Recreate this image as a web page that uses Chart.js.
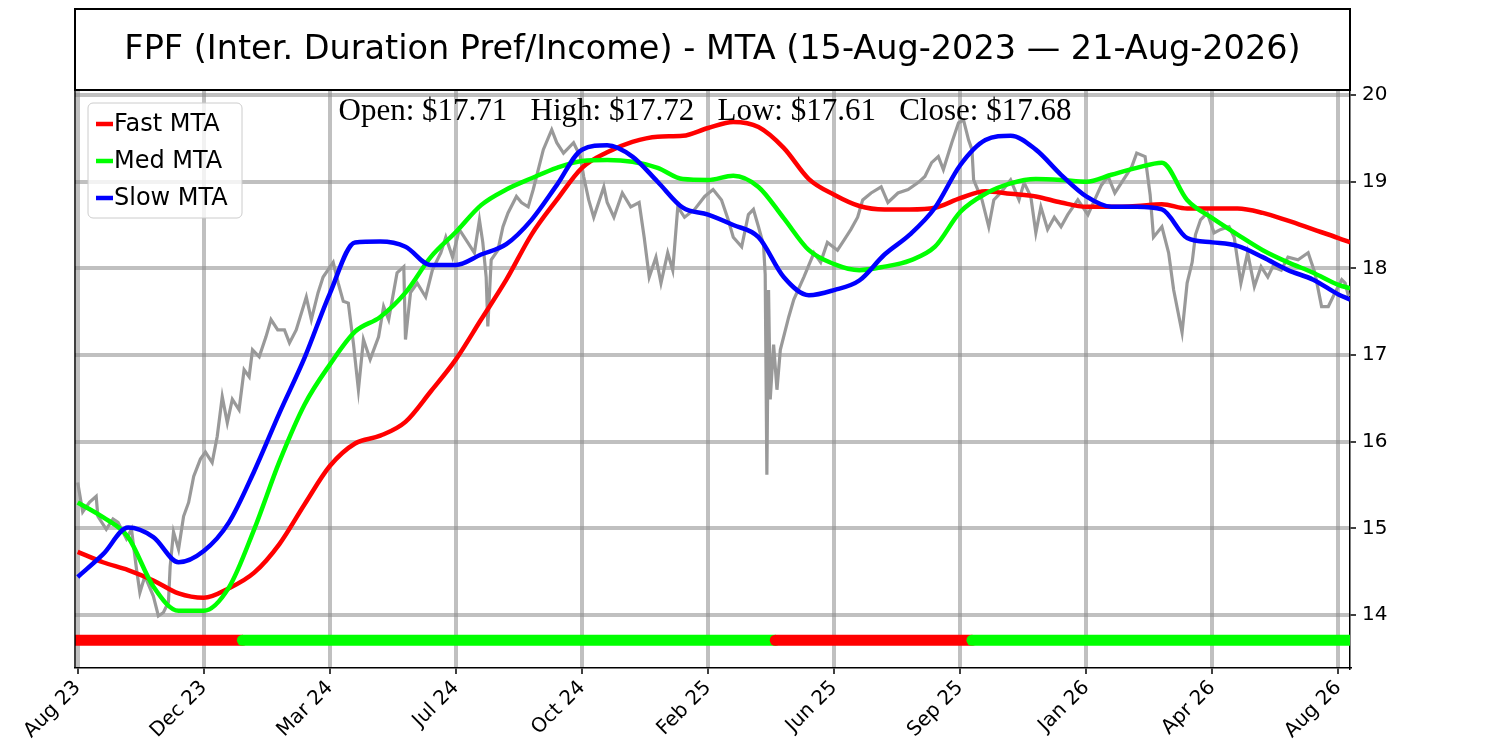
<!DOCTYPE html>
<html>
<head>
<meta charset="utf-8">
<script src="https://cdn.jsdelivr.net/npm/chart.js@4.4.1/dist/chart.umd.min.js"></script>
<style>
    html, body { margin: 0; padding: 0; background: #fff; }
    #chartMTA { display: block; }
</style>
</head>
<body>
<canvas id="chartMTA" width="1500" height="750"></canvas>
<script>
// tick labels (bar index -> month label)
var xTickDays = [0, 75, 150, 225, 300, 375, 450, 525, 600, 675, 750];
var xTickLabels = ['Aug 23', 'Dec 23', 'Mar 24', 'Jul 24', 'Oct 24', 'Feb 25', 'Jun 25', 'Sep 25', 'Jan 26', 'Apr 26', 'Aug 26'];
var yTicks = [14, 15, 16, 17, 18, 19, 20];

var titleText = 'FPF (Inter. Duration Pref/Income) - MTA (15-Aug-2023 \u2014 21-Aug-2026)';
var ohlcLabels = ['Open', 'High', 'Low', 'Close'];
var ohlcValues = [17.71, 17.72, 17.61, 17.68];

// price
var priceDays = [
    0, 3, 7, 11, 12, 17, 21, 24, 29, 32,
    35, 37, 40, 45, 48, 51, 54, 55, 57, 60,
    63, 66, 69, 73, 76, 80, 83, 86, 89, 92,
    96, 99, 102, 104, 108, 112, 115, 119, 123, 126,
    130, 136, 139, 143, 146, 152, 155, 158, 161, 164,
    167, 170, 174, 179, 182, 185, 190, 194, 195, 198,
    202, 207, 211, 216, 219, 223, 227, 232, 236, 239,
    241, 243, 244, 246, 250, 253, 256, 261, 264, 268,
    271, 274, 277, 282, 285, 289, 295, 299, 301, 304,
    307, 313, 315, 319, 324, 329, 334, 337, 340, 344,
    347, 351, 354, 357, 361, 367, 373, 378, 383, 387,
    390, 395, 399, 402, 405, 408, 409, 410, 411, 412,
    414, 416, 418, 423, 426, 432, 438, 442, 446, 452,
    456, 460, 464, 467, 472, 478, 482, 488, 494, 500,
    504, 508, 512, 515, 520, 524, 527, 530, 532, 533,
    538, 542, 545, 549, 555, 560, 563, 567, 570, 573,
    577, 581, 585, 589, 595, 601, 609, 613, 617, 621,
    627, 630, 635, 638, 640, 645, 649, 652, 657, 660,
    663, 665, 668, 672, 676, 680, 685, 688, 692, 696,
    700, 704, 708, 711, 716, 720, 726, 732, 736, 740,
    744, 748, 752, 754, 756
];
var priceValues = [
    15.53, 15.19, 15.30, 15.37, 15.14, 14.99, 15.11, 15.07, 14.88, 14.99,
    14.53, 14.26, 14.45, 14.22, 13.99, 14.03, 14.15, 14.56, 14.96, 14.76,
    15.14, 15.30, 15.60, 15.80, 15.88, 15.76, 16.06, 16.52, 16.22, 16.49,
    16.37, 16.83, 16.75, 17.06, 16.98, 17.21, 17.41, 17.29, 17.29, 17.14,
    17.29, 17.67, 17.41, 17.72, 17.90, 18.07, 17.83, 17.62, 17.60, 17.14,
    16.60, 17.18, 16.95, 17.21, 17.56, 17.41, 17.95, 18.02, 17.18, 17.72,
    17.83, 17.67, 17.98, 18.18, 18.36, 18.13, 18.45, 18.30, 18.18, 18.56,
    18.30, 17.90, 17.33, 18.10, 18.21, 18.48, 18.64, 18.83, 18.76, 18.71,
    18.91, 19.14, 19.37, 19.60, 19.45, 19.33, 19.45, 19.29, 19.06, 18.79,
    18.59, 18.94, 18.76, 18.59, 18.87, 18.71, 18.76, 18.36, 17.90, 18.13,
    17.83, 18.18, 17.98, 18.71, 18.59, 18.68, 18.83, 18.91, 18.79, 18.56,
    18.36, 18.25, 18.62, 18.68, 18.48, 18.27, 17.93, 15.62, 17.75, 16.49,
    17.12, 16.60, 17.06, 17.44, 17.64, 17.90, 18.18, 18.07, 18.30, 18.21,
    18.33, 18.45, 18.59, 18.79, 18.87, 18.94, 18.76, 18.87, 18.91, 18.99,
    19.06, 19.22, 19.29, 19.14, 19.45, 19.68, 19.71, 19.48, 19.37, 19.02,
    18.79, 18.48, 18.79, 18.87, 19.02, 18.79, 18.99, 18.83, 18.41, 18.71,
    18.45, 18.59, 18.48, 18.62, 18.79, 18.62, 18.96, 19.06, 18.87, 18.99,
    19.17, 19.33, 19.29, 18.85, 18.36, 18.48, 18.18, 17.75, 17.26, 17.83,
    18.07, 18.39, 18.56, 18.64, 18.41, 18.45, 18.48, 18.36, 17.83, 18.18,
    17.79, 18.02, 17.90, 18.02, 17.98, 18.13, 18.10, 18.18, 17.95, 17.56,
    17.56, 17.72, 17.87, 17.83, 17.68
];

// MTA lines, sampled every 15 bars
var mtaDays = [
    0, 15, 30, 45, 60, 75, 90, 105, 120, 135,
    150, 165, 180, 195, 210, 225, 240, 255, 270, 285,
    300, 315, 330, 345, 360, 375, 390, 405, 420, 435,
    450, 465, 480, 495, 510, 525, 540, 555, 570, 585,
    600, 615, 630, 645, 660, 675, 690, 705, 720, 735,
    750, 757
];
var fastMta = [
    14.73, 14.61, 14.52, 14.40, 14.25, 14.20, 14.31, 14.49, 14.82, 15.28,
    15.72, 15.98, 16.07, 16.23, 16.58, 16.95, 17.41, 17.87, 18.39, 18.79,
    19.16, 19.34, 19.46, 19.52, 19.53, 19.62, 19.69, 19.63, 19.39, 19.03,
    18.85, 18.72, 18.68, 18.68, 18.70, 18.81, 18.89, 18.86, 18.83, 18.76,
    18.71, 18.71, 18.72, 18.74, 18.69, 18.69, 18.69, 18.64, 18.55, 18.45,
    18.35, 18.30
];
var medMta = [
    15.30, 15.13, 14.90, 14.33, 14.05, 14.05, 14.32, 14.99, 15.77, 16.43,
    16.89, 17.27, 17.44, 17.72, 18.13, 18.42, 18.73, 18.91, 19.04, 19.16,
    19.24, 19.25, 19.23, 19.16, 19.03, 19.02, 19.07, 18.94, 18.58, 18.21,
    18.05, 17.98, 18.02, 18.09, 18.25, 18.65, 18.86, 18.98, 19.03, 19.02,
    19.00, 19.08, 19.16, 19.22, 18.79, 18.58, 18.39, 18.21, 18.07, 17.95,
    17.81, 17.77
];
var slowMta = [
    14.44, 14.70, 15.01, 14.90, 14.61, 14.74, 15.07, 15.66, 16.33, 16.97,
    17.71, 18.30, 18.31, 18.25, 18.04, 18.04, 18.16, 18.28, 18.56, 18.96,
    19.37, 19.42, 19.29, 19.00, 18.70, 18.62, 18.50, 18.36, 17.90, 17.69,
    17.75, 17.86, 18.16, 18.39, 18.70, 19.19, 19.48, 19.53, 19.37, 19.08,
    18.83, 18.71, 18.71, 18.68, 18.35, 18.30, 18.26, 18.13, 17.98, 17.87,
    17.70, 17.64
];

// regime band at the bottom
var signalBreaks = [-2, 98, 415, 532, 758];
var signalColors = ['#ff0000', '#00ff00', '#ff0000', '#00ff00'];
var signalLevel = 13.71;

function toPoints(xs, ys) {
    var pts = [];
    for (var i = 0; i < xs.length; i++) {
        pts.push({ x: xs[i], y: ys[i] });
    }
    return pts;
}

var datasets = [
    {
        label: 'Price',
        data: toPoints(priceDays, priceValues),
        borderColor: '#999999',
        borderWidth: 3.2,
        pointRadius: 0,
        tension: 0,
        order: 5
    },
    {
        label: 'Fast MTA',
        data: toPoints(mtaDays, fastMta),
        borderColor: '#ff0000',
        borderWidth: 4.5,
        pointRadius: 0,
        cubicInterpolationMode: 'monotone',
        order: 3,
        inLegend: true
    },
    {
        label: 'Med MTA',
        data: toPoints(mtaDays, medMta),
        borderColor: '#00ff00',
        borderWidth: 4.5,
        pointRadius: 0,
        cubicInterpolationMode: 'monotone',
        order: 2,
        inLegend: true
    },
    {
        label: 'Slow MTA',
        data: toPoints(mtaDays, slowMta),
        borderColor: '#0000ff',
        borderWidth: 4.5,
        pointRadius: 0,
        cubicInterpolationMode: 'monotone',
        order: 1,
        inLegend: true
    }
];

for (var k = 0; k < signalColors.length; k++) {
    datasets.push({
        label: 'signal' + k,
        data: [{ x: signalBreaks[k], y: signalLevel }, { x: signalBreaks[k + 1], y: signalLevel }],
        borderColor: signalColors[k],
        borderWidth: 11,
        borderCapStyle: 'round',
        pointRadius: 0,
        order: 20 - k
    });
}

// title box, spines, OHLC text and legend
var decorations = {
    id: 'decorations',
    afterDatasetsDraw: function (chart) {
        var ctx = chart.ctx;
        var a = chart.chartArea;
        ctx.save();

        // OHLC line
        var parts = [];
        for (var i = 0; i < ohlcLabels.length; i++) {
            parts.push(ohlcLabels[i] + ': $' + ohlcValues[i].toFixed(2));
        }
        ctx.fillStyle = '#000';
        ctx.font = '31px "Liberation Serif", "Times New Roman", serif';
        ctx.textAlign = 'center';
        ctx.textBaseline = 'alphabetic';
        ctx.fillText(parts.join('\u00a0\u00a0\u00a0'), 705, 120);

        // legend box
        var bx = a.left + 13, by = a.top + 13, bw = 154, bh = 115;
        ctx.beginPath();
        ctx.roundRect(bx, by, bw, bh, 5);
        ctx.fillStyle = 'rgba(255,255,255,0.8)';
        ctx.fill();
        ctx.strokeStyle = '#cccccc';
        ctx.lineWidth = 1;
        ctx.stroke();

        var items = chart.data.datasets.filter(function (d) { return d.inLegend; });
        ctx.font = '24px "DejaVu Sans"';
        ctx.textAlign = 'left';
        ctx.textBaseline = 'middle';
        items.forEach(function (d, n) {
            var yy = by + 21 + n * 37;
            ctx.beginPath();
            ctx.moveTo(bx + 8, yy);
            ctx.lineTo(bx + 25, yy);
            ctx.strokeStyle = d.borderColor;
            ctx.lineWidth = 4.5;
            ctx.stroke();
            ctx.fillStyle = '#000';
            ctx.fillText(d.label, bx + 26, yy + 1);
        });
        ctx.restore();
    },
    afterDraw: function (chart) {
        var ctx = chart.ctx;
        var a = chart.chartArea;
        ctx.save();
        ctx.strokeStyle = '#000';
        ctx.lineWidth = 2;
        // title box
        ctx.strokeRect(a.left, 9, a.right - a.left, a.top - 9);
        // left spine
        ctx.lineWidth = 1.5;
        ctx.beginPath();
        ctx.moveTo(a.left, a.top);
        ctx.lineTo(a.left, a.bottom);
        ctx.stroke();

        ctx.fillStyle = '#000';
        ctx.font = '33.5px "DejaVu Sans"';
        ctx.textAlign = 'center';
        ctx.textBaseline = 'middle';
        ctx.fillText(titleText, (a.left + a.right) / 2, 50);
        ctx.restore();
    }
};

var ctx = document.getElementById('chartMTA').getContext('2d');
var myChart = new Chart(ctx, {
    type: 'line',
    data: { datasets: datasets },
    plugins: [decorations],
    options: {
        responsive: false,
        animation: false,
        devicePixelRatio: 1,
        layout: {
            padding: { left: 75, top: 90, right: 90, bottom: 0 }
        },
        scales: {
            x: {
                type: 'linear',
                position: 'bottom',
                min: -1.6,
                max: 756.9,
                afterBuildTicks: function (scale) {
                    scale.ticks = xTickDays.map(function (v) { return { value: v }; });
                },
                afterFit: function (scale) {
                    scale.height = 82;
                    scale.paddingLeft = 0;
                    scale.paddingRight = 0;
                },
                ticks: {
                    autoSkip: false,
                    minRotation: 45,
                    maxRotation: 45,
                    padding: 2,
                    color: '#000',
                    font: { family: 'DejaVu Sans', size: 20 },
                    callback: function (value) {
                        var idx = xTickDays.indexOf(value);
                        return idx >= 0 ? xTickLabels[idx] : '';
                    }
                },
                grid: {
                    color: 'rgba(140,140,140,0.55)',
                    lineWidth: 4,
                    tickColor: '#000',
                    tickWidth: 1.5,
                    tickLength: 6
                },
                border: { display: true, color: '#000', width: 1.5 }
            },
            y: {
                type: 'linear',
                position: 'right',
                min: 13.39,
                max: 20.058,
                afterBuildTicks: function (scale) {
                    scale.ticks = yTicks.map(function (v) { return { value: v }; });
                },
                afterFit: function (scale) {
                    scale.width = 60;
                    scale.paddingTop = 0;
                    scale.paddingBottom = 0;
                },
                ticks: {
                    padding: 6,
                    color: '#000',
                    font: { family: 'DejaVu Sans', size: 20 }
                },
                grid: {
                    color: 'rgba(140,140,140,0.55)',
                    lineWidth: 4,
                    tickColor: '#000',
                    tickWidth: 1.5,
                    tickLength: 6
                },
                border: { display: true, color: '#000', width: 1.5 }
            }
        },
        plugins: {
            legend: { display: false },
            tooltip: { enabled: false }
        }
    }
});
</script>
</body>
</html>
